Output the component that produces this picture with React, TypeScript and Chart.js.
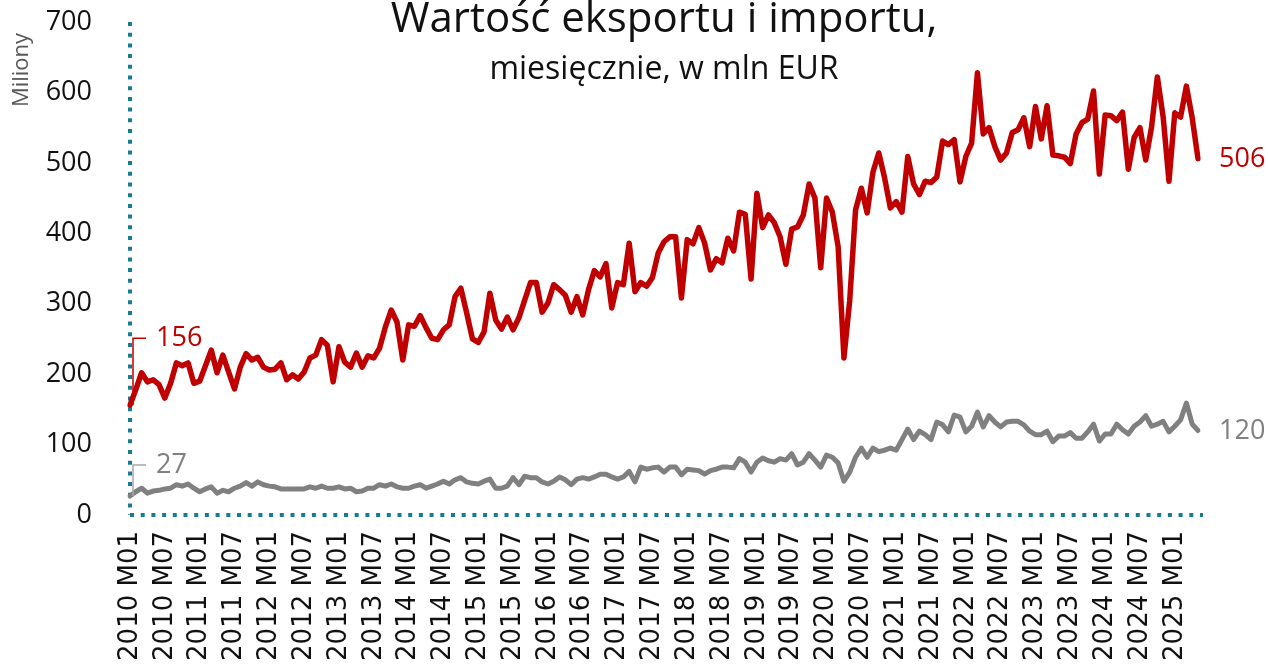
import React, { useEffect, useRef } from "react";
import { Chart, registerables } from "chart.js";

Chart.register(...registerables);

const years = [2010, 2011, 2012, 2013, 2014, 2015, 2016, 2017, 2018, 2019, 2020, 2021, 2022, 2023, 2024, 2025];
const months = ["01", "02", "03", "04", "05", "06", "07", "08", "09", "10", "11", "12"];

const redSeries = [
  156, 178, 202, 189, 192, 185, 166, 187, 216, 212, 216, 187,
  190, 212, 234, 202, 227, 203, 179, 210, 229, 220, 224, 210,
  206, 207, 216, 192, 199, 193, 203, 223, 227, 249, 241, 189,
  239, 217, 210, 230, 210, 226, 223, 237, 267, 291, 274, 220,
  270, 268, 283, 266, 251, 249, 263, 270, 310, 322, 287, 250,
  245, 260, 315, 277, 264, 281, 263, 280, 305, 330, 330, 288,
  301, 327, 320, 312, 288, 310, 284, 320, 347, 338, 357, 294,
  330, 327, 386, 317, 330, 325, 337, 372, 388, 395, 395, 308,
  391, 385, 408, 386, 348, 364, 358, 393, 375, 430, 427, 335,
  457, 408, 426, 415, 395, 356, 406, 409, 426, 470, 450, 351,
  450, 430, 381, 223, 305, 433, 464, 429, 487, 514, 479, 436,
  445, 430, 509, 470, 455, 474, 472, 480, 531, 526, 533, 473,
  509, 528, 628, 541, 550, 523, 504, 514, 543, 547, 564, 523,
  580, 534, 581, 511, 510, 508, 499, 541, 557, 562, 602, 484,
  568, 567, 560, 572, 491, 536, 550, 504, 551, 622, 565, 474,
  571, 565, 609, 564, 506,
];

const graySeries = [
  27, 33, 38, 31, 34, 35, 37, 38, 43, 41, 44, 38,
  33, 37, 40, 31, 35, 33, 38, 41, 46, 41, 47, 43,
  41, 40, 37, 37, 37, 37, 37, 40, 38, 41, 38, 38,
  40, 37, 38, 33, 34, 38, 38, 43, 41, 44, 40, 38,
  38, 41, 43, 38, 41, 44, 48, 44, 50, 53, 47, 45,
  44, 48, 51, 38, 38, 41, 53, 43, 55, 53, 53, 47,
  44, 48, 54, 50, 43, 51, 53, 51, 54, 58, 58, 54,
  51, 54, 62, 47, 68, 65, 67, 68, 61, 68, 68, 57,
  65, 64, 63, 58, 63, 65, 68, 68, 67, 80, 75, 61,
  75, 81, 77, 75, 80, 78, 87, 71, 75, 87, 78, 68,
  85, 82, 74, 48, 61, 82, 95, 82, 95, 90, 92, 95,
  92, 107, 122, 107, 119, 114, 107, 132, 128, 118, 142, 139,
  118, 126, 146, 125, 141, 132, 125, 132, 133, 133, 128, 119,
  114, 114, 119, 104, 112, 112, 117, 109, 109, 118, 129, 105,
  115, 115, 129, 121, 115, 126, 132, 141, 126, 129, 133, 118,
  126, 135, 159, 129, 120,
];

const categories = years
  .flatMap((y) => months.map((m) => `${y} M${m}`))
  .slice(0, redSeries.length);

const titleText = "Wartość eksportu i importu,";
const subtitleText = "miesięcznie, w mln EUR";
const yAxisTitle = "Miliony";

const RED = "#C00000";
const GRAY = "#808080";
const AXIS = "#177C93";
const FONT = "'Open Sans', 'DejaVu Sans', sans-serif";
const TICKFONT = "'DejaVu Sans', 'Open Sans', sans-serif";

const overlayPlugin = {
  id: "overlay",
  beforeDatasetsDraw(chart: any) {
    const ctx = chart.ctx;
    const a = chart.chartArea;
    ctx.save();
    ctx.strokeStyle = AXIS;
    ctx.lineWidth = 4;
    ctx.setLineDash([4, 6.7]);
    ctx.beginPath();
    ctx.moveTo(a.left, a.top);
    ctx.lineTo(a.left, a.bottom);
    ctx.stroke();
    ctx.beginPath();
    ctx.moveTo(a.left, a.bottom);
    ctx.lineTo(a.right + 5, a.bottom);
    ctx.stroke();
    ctx.restore();
  },
  afterDatasetsDraw(chart: any) {
    const ctx = chart.ctx;
    const xs = chart.scales.x;
    const ys = chart.scales.y;
    const last = redSeries.length - 1;
    ctx.save();
    const starts = [
      { v: redSeries[0], color: RED, lead: RED, rise: 67 },
      { v: graySeries[0], color: GRAY, lead: "#A6A6A6", rise: 31 },
    ];
    starts.forEach((s) => {
      const px = xs.getPixelForValue(0) + 3;
      const py = ys.getPixelForValue(s.v);
      ctx.strokeStyle = s.lead;
      ctx.lineWidth = 1.5;
      ctx.beginPath();
      ctx.moveTo(px, py);
      ctx.lineTo(px, py - s.rise);
      ctx.lineTo(px + 13, py - s.rise);
      ctx.stroke();
      ctx.fillStyle = s.color;
      ctx.font = `27px ${FONT}`;
      ctx.textAlign = "left";
      ctx.textBaseline = "middle";
      ctx.fillText(String(s.v), px + 23, py - s.rise);
    });
    const ends = [
      { v: redSeries[last], color: RED },
      { v: graySeries[last], color: GRAY },
    ];
    ends.forEach((e) => {
      const px = xs.getPixelForValue(last);
      const py = ys.getPixelForValue(e.v);
      ctx.fillStyle = e.color;
      ctx.font = `27px ${FONT}`;
      ctx.textAlign = "left";
      ctx.textBaseline = "middle";
      ctx.fillText(String(e.v), px + 21, py + 1);
    });
    ctx.restore();
  },
  afterDraw(chart: any) {
    const ctx = chart.ctx;
    ctx.save();
    ctx.fillStyle = "#111111";
    ctx.textAlign = "center";
    ctx.textBaseline = "middle";
    ctx.font = `42px ${FONT}`;
    ctx.fillText(titleText, 664, 20);
    ctx.font = `32px ${FONT}`;
    ctx.fillText(subtitleText, 664, 70);
    ctx.translate(22, 70);
    ctx.rotate(-Math.PI / 2);
    ctx.fillStyle = "#595959";
    ctx.font = `22px ${FONT}`;
    ctx.fillText(yAxisTitle, 0, 0);
    ctx.restore();
  },
};

export default function App() {
  const ref = useRef<HTMLCanvasElement | null>(null);
  useEffect(() => {
    document.body.style.margin = "0";
    const canvas = ref.current!;
    const chart = new Chart(canvas, {
      type: "line",
      data: {
        labels: categories,
        datasets: [
          {
            label: "Import",
            data: graySeries,
            borderColor: GRAY,
            borderWidth: 5,
            pointRadius: 0,
            tension: 0,
            borderJoinStyle: "round",
            borderCapStyle: "round",
          },
          {
            label: "Eksport",
            data: redSeries,
            borderColor: RED,
            borderWidth: 5.5,
            pointRadius: 0,
            tension: 0,
            borderJoinStyle: "round",
            borderCapStyle: "round",
          },
        ],
      },
      options: {
        animation: false,
        responsive: false,
        maintainAspectRatio: false,
        layout: { padding: { top: 22, right: 70, left: 0, bottom: 0 } },
        plugins: {
          legend: { display: false },
          tooltip: { enabled: false },
          title: { display: false },
        },
        scales: {
          x: {
            offset: false,
            grid: { display: false, drawTicks: false },
            border: { display: false },
            ticks: {
              autoSkip: false,
              maxRotation: 90,
              minRotation: 90,
              padding: 16,
              color: "#111111",
              font: { family: TICKFONT, size: 26 },
              callback: (_v: any, i: number) => (i % 6 === 0 ? categories[i] : null),
            },
            afterFit: (s: any) => {
              s.height = 154;
              s.paddingLeft = 0;
              s.paddingRight = 0;
            },
          },
          y: {
            min: 0,
            max: 700,
            grid: { display: false, drawTicks: false },
            border: { display: false },
            ticks: {
              stepSize: 100,
              padding: 38,
              color: "#111111",
              font: { family: FONT, size: 27 },
            },
            afterFit: (s: any) => {
              s.width = 130;
              s.paddingTop = 0;
              s.paddingBottom = 0;
            },
          },
        },
      },
      plugins: [overlayPlugin],
    });
    return () => chart.destroy();
  }, []);
  return (
    <div style={{ width: 1268, height: 669 }}>
      <canvas ref={ref} width={1268} height={669} style={{ display: "block" }} />
    </div>
  );
}
